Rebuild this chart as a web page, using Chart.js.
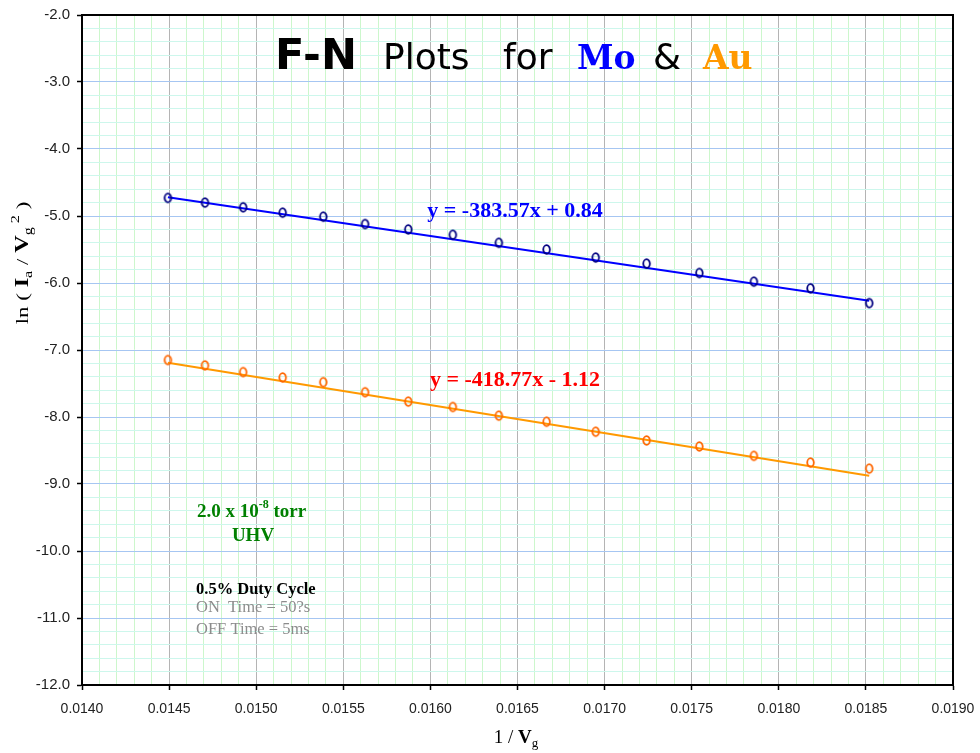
<!DOCTYPE html>
<html>
<head>
<meta charset="utf-8">
<title>F-N Plots for Mo &amp; Au</title>
<script src="https://cdn.jsdelivr.net/npm/chart.js@4.4.1/dist/chart.umd.min.js"></script>
<style>
  html, body { margin: 0; padding: 0; background: #fff; }
  #wrap { width: 980px; height: 753px; }
</style>
</head>
<body>
<div id="wrap"><canvas id="fnChart" width="980" height="753"></canvas></div>
<script>
// 1 / Vg (Vg = 69 V ... 54 V)
const invVg = [0.014493, 0.014706, 0.014925, 0.015152, 0.015385, 0.015625, 0.015873, 0.016129,
               0.016393, 0.016667, 0.016949, 0.017241, 0.017544, 0.017857, 0.018182, 0.018519];
// ln(Ia / Vg^2)
const moLn = [-4.73, -4.80, -4.87, -4.95, -5.01, -5.12, -5.20, -5.28,
              -5.40, -5.50, -5.62, -5.71, -5.85, -5.98, -6.08, -6.30];
const auLn = [-7.15, -7.23, -7.33, -7.41, -7.48, -7.63, -7.77, -7.85,
              -7.98, -8.07, -8.22, -8.35, -8.44, -8.58, -8.68, -8.77];
// linear fits [slope, intercept]
const moFit = [-383.57, 0.84];
const auFit = [-418.77, -1.12];
// major tick labels
const xTickLabels = ['0.0140', '0.0145', '0.0150', '0.0155', '0.0160', '0.0165',
                     '0.0170', '0.0175', '0.0180', '0.0185', '0.0190'];
const yTickLabels = ['-2.0', '-3.0', '-4.0', '-5.0', '-6.0', '-7.0',
                     '-8.0', '-9.0', '-10.0', '-11.0', '-12.0'];

const xMajor = xTickLabels.map(Number);
const yMajor = yTickLabels.map(Number);
const xStep = (xMajor[1] - xMajor[0]) / 5;
const yStep = (yMajor[0] - yMajor[1]) / 5;

function isMajor(v, list) {
  return list.findIndex(m => Math.abs(v - m) < 1e-7);
}

function pts(ys) {
  return invVg.map((x, i) => ({ x: x, y: ys[i] }));
}

function fitLine(fit) {
  const x0 = invVg[0], x1 = invVg[invVg.length - 1];
  return [{ x: x0, y: fit[0] * x0 + fit[1] }, { x: x1, y: fit[0] * x1 + fit[1] }];
}

// hand-drawn looking oval marker
function ovalMarker(color) {
  const c = document.createElement('canvas');
  c.width = 11; c.height = 13;
  const g = c.getContext('2d');
  g.strokeStyle = color;
  g.lineWidth = 1.8;
  g.beginPath();
  g.ellipse(5.5, 6.5, 3.3, 4.3, 0, 0, Math.PI * 2);
  g.stroke();
  return c;
}

// draws a row of text pieces, returns total width
function drawRuns(ctx, x, y, runs, measureOnly) {
  let w = 0;
  runs.forEach(r => {
    ctx.font = r.font;
    if (!measureOnly) {
      ctx.fillStyle = r.color || '#000';
      ctx.fillText(r.text, x + w, y + (r.dy || 0));
    }
    w += ctx.measureText(r.text).width;
  });
  return w;
}

const SERIF = '"Liberation Serif", "Times New Roman", serif';

const labelsPlugin = {
  id: 'fnLabels',
  afterDraw(chart) {
    const ctx = chart.ctx;
    const a = chart.chartArea;
    ctx.save();

    // frame
    ctx.strokeStyle = '#000';
    ctx.lineWidth = 2;
    ctx.strokeRect(a.left, a.top, a.right - a.left, a.bottom - a.top);

    ctx.textBaseline = 'alphabetic';
    ctx.textAlign = 'left';

    // title
    const T = 69;
    ctx.fillStyle = '#000';
    ctx.font = 'bold 43px "DejaVu Sans"'; ctx.fillText('F-N', 275, T);
    ctx.font = '36px "DejaVu Sans"'; ctx.fillText('Plots', 383, T);
    ctx.fillText('for', 503, T);
    ctx.fillText('&', 653, T);
    ctx.font = 'bold 33px "DejaVu Serif"';
    ctx.fillStyle = '#0000ff'; ctx.fillText('Mo', 577, T);
    ctx.fillStyle = '#ff9900'; ctx.fillText('Au', 703, T);

    // fit equations
    ctx.textAlign = 'center';
    ctx.font = 'bold 22px ' + SERIF;
    ctx.fillStyle = '#0000ff'; ctx.fillText('y = -383.57x + 0.84', 515, 217);
    ctx.fillStyle = '#ff0000'; ctx.fillText('y = -418.77x - 1.12', 515, 386);

    // vacuum note
    ctx.textAlign = 'left';
    const green = '#008000';
    drawRuns(ctx, 197, 517, [
      { text: '2.0 x 10', font: 'bold 19px ' + SERIF, color: green },
      { text: '-8', font: 'bold 12px ' + SERIF, color: green, dy: -9 },
      { text: ' torr', font: 'bold 19px ' + SERIF, color: green }
    ]);
    ctx.textAlign = 'center';
    ctx.font = 'bold 19px ' + SERIF;
    ctx.fillStyle = green;
    ctx.fillText('UHV', 253, 541);

    // pulse note
    ctx.textAlign = 'left';
    ctx.font = 'bold 16.5px ' + SERIF;
    ctx.fillStyle = '#000';
    ctx.fillText('0.5% Duty Cycle', 196, 594);
    ctx.font = '16.5px ' + SERIF;
    ctx.fillStyle = '#8c8c8c';
    ctx.fillText('ON  Time = 50?s', 196, 612);
    ctx.fillText('OFF Time = 5ms', 196, 634);

    // x axis title
    const xRuns = [
      { text: '1 / ', font: '19px ' + SERIF },
      { text: 'V', font: 'bold 19px ' + SERIF },
      { text: 'g', font: '13px ' + SERIF, dy: 4 }
    ];
    const xw = drawRuns(ctx, 0, 0, xRuns, true);
    drawRuns(ctx, 516 - xw / 2, 743, xRuns);

    // y axis title, stretched along its length
    const yRuns = [
      { text: 'ln ( ', font: '17px ' + SERIF },
      { text: 'I', font: 'bold 18px ' + SERIF },
      { text: 'a', font: '12px ' + SERIF, dy: 4 },
      { text: ' / ', font: '17px ' + SERIF },
      { text: 'V', font: 'bold 18px ' + SERIF },
      { text: 'g', font: '12px ' + SERIF, dy: 4 },
      { text: ' 2', font: '12px ' + SERIF, dy: -9 },
      { text: ' )', font: '17px ' + SERIF }
    ];
    const yw = drawRuns(ctx, 0, 0, yRuns, true);
    ctx.translate(28, 263);
    ctx.rotate(-Math.PI / 2);
    ctx.scale(1.35, 1);
    drawRuns(ctx, -yw / 2, 0, yRuns);

    ctx.restore();
  }
};

const ctx = document.getElementById('fnChart').getContext('2d');
new Chart(ctx, {
  type: 'scatter',
  data: {
    datasets: [
      {
        label: 'Mo',
        data: pts(moLn),
        pointStyle: ovalMarker('#000080'),
        pointRadius: 5,
        order: 0
      },
      {
        label: 'Au',
        data: pts(auLn),
        pointStyle: ovalMarker('#ff6600'),
        pointRadius: 5,
        order: 0
      },
      {
        label: 'Mo fit',
        data: fitLine(moFit),
        showLine: true,
        borderColor: '#0000ff',
        borderWidth: 2,
        pointRadius: 0,
        order: 1
      },
      {
        label: 'Au fit',
        data: fitLine(auFit),
        showLine: true,
        borderColor: '#ff9900',
        borderWidth: 2,
        pointRadius: 0,
        order: 1
      }
    ]
  },
  options: {
    responsive: false,
    animation: false,
    events: [],
    layout: { padding: { left: 0, top: 15, right: 27, bottom: 0 } },
    plugins: {
      legend: { display: false },
      tooltip: { enabled: false },
      title: { display: false }
    },
    scales: {
      x: {
        type: 'linear',
        min: xMajor[0],
        max: xMajor[xMajor.length - 1],
        afterFit: s => { s.height = 68; s.paddingLeft = 0; s.paddingRight = 0; },
        border: { color: '#000', width: 2 },
        grid: {
          lineWidth: 1,
          tickLength: 5,
          color: c => isMajor(c.tick.value, xMajor) >= 0 ? '#b4b4b4' : '#ccf7cc',
          tickColor: c => isMajor(c.tick.value, xMajor) >= 0 ? '#000' : 'rgba(0,0,0,0)',
          tickWidth: 1.5
        },
        ticks: {
          stepSize: xStep,
          autoSkip: false,
          maxRotation: 0,
          padding: 11,
          color: '#222',
          font: { family: '"Liberation Sans", Arial, sans-serif', size: 14 },
          callback: v => {
            const i = isMajor(v, xMajor);
            return i >= 0 ? xTickLabels[i] : '';
          }
        }
      },
      y: {
        type: 'linear',
        min: yMajor[yMajor.length - 1],
        max: yMajor[0],
        afterFit: s => { s.width = 82; s.paddingTop = 0; s.paddingBottom = 0; },
        border: { color: '#000', width: 2 },
        grid: {
          lineWidth: 1,
          tickLength: 5,
          color: c => isMajor(c.tick.value, yMajor) >= 0 ? '#a6c6f2' : '#cdf7ec',
          tickColor: c => isMajor(c.tick.value, yMajor) >= 0 ? '#000' : 'rgba(0,0,0,0)',
          tickWidth: 1.5
        },
        ticks: {
          stepSize: yStep,
          autoSkip: false,
          padding: 7,
          color: '#222',
          font: { family: '"Liberation Sans", Arial, sans-serif', size: 15 },
          callback: v => {
            const i = isMajor(v, yMajor);
            return i >= 0 ? yTickLabels[i] : '';
          }
        }
      }
    }
  },
  plugins: [labelsPlugin]
});
</script>
</body>
</html>
